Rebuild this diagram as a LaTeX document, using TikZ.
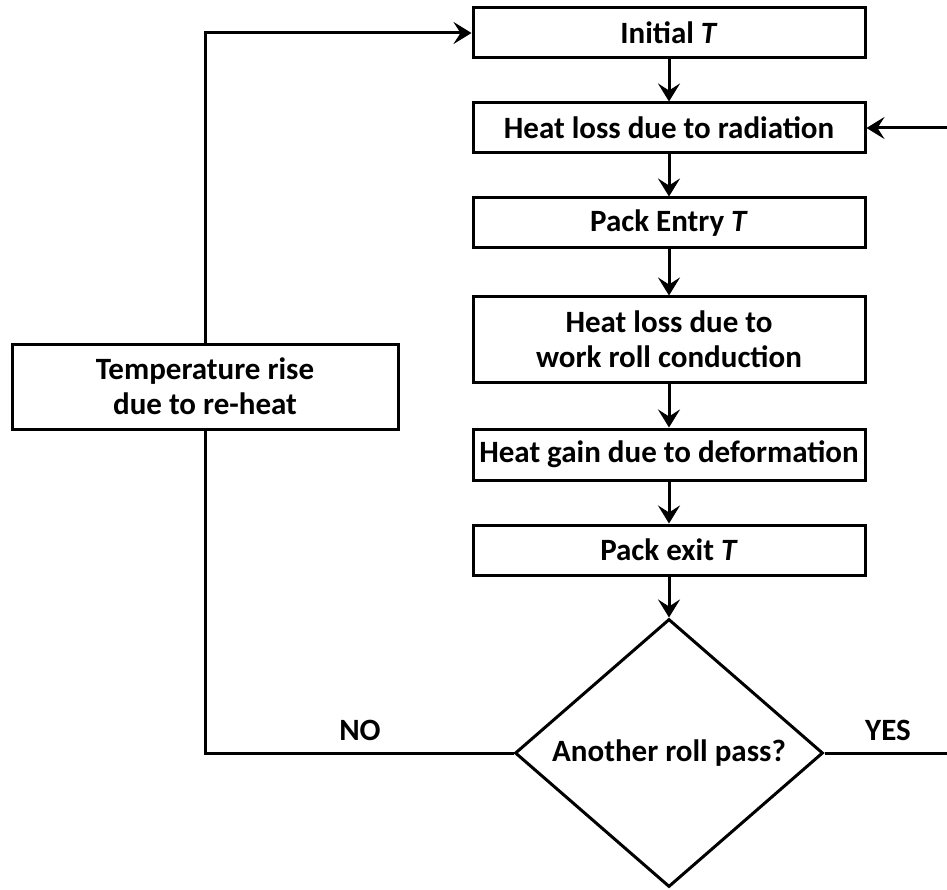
\documentclass[tikz,border=0pt]{standalone}
\usepackage{fontspec}
\setmainfont{Carlito}
\usetikzlibrary{arrows.meta,shapes.geometric}
\begin{document}
\begin{tikzpicture}[x=1pt,y=-1pt,
  txt/.style={font=\bfseries\fontsize{31}{35}\selectfont},
  box/.style={txt, draw, line width=3pt, minimum width=392pt, inner sep=0pt, align=center},
  dec/.style={txt, draw, diamond, line width=3pt, minimum width=308pt, minimum height=268pt, inner sep=0pt},
  link/.style={line width=3pt},
  arr/.style={link, -{Stealth[length=18pt,width=22pt,inset=7pt]}}]
\useasboundingbox (0,0) rectangle (947,890);
\node[box, minimum height=50pt] (init) at (669,33) {Initial \textit{T}};
\node[box, minimum height=50pt] (rad) at (669,128) {Heat loss due to radiation};
\node[box, minimum height=50pt] (entry) at (669,223) {Pack Entry \textit{T}};
\node[box, minimum height=85pt] (cond) at (669,339.5) {Heat loss due to\\work roll conduction};
\node[box, minimum height=51pt] (def) at (669,454.5) {Heat gain due to deformation};
\node[box, minimum height=50pt] (exit) at (669,550) {Pack exit \textit{T}};
\node[dec] (dia) at (669,753) {Another roll pass?};
\node[box, minimum height=85pt, minimum width=386pt] (temp) at (205,386.5) {Temperature rise\\due to re-heat};
\node[txt] (no) at (360,730) {NO};
\node[txt] (yes) at (888,730) {YES};
\coordinate (tl) at (205,33);
\coordinate (bl) at (205,753);
\coordinate (br) at (962,753);
\coordinate (tr) at (962,128);
\draw[arr] (init) -- (rad);
\draw[arr] (rad) -- (entry);
\draw[arr] (entry) -- (cond);
\draw[arr] (cond) -- (def);
\draw[arr] (def) -- (exit);
\draw[arr] (exit) -- (dia);
\draw[link] (dia.west) -- (bl) -- (temp.south);
\draw[arr] (temp.north) -- (tl) -- (init.west);
\draw[arr] (dia.east) -- (br) -- (tr) -- (rad.east);
\end{tikzpicture}
\end{document}
